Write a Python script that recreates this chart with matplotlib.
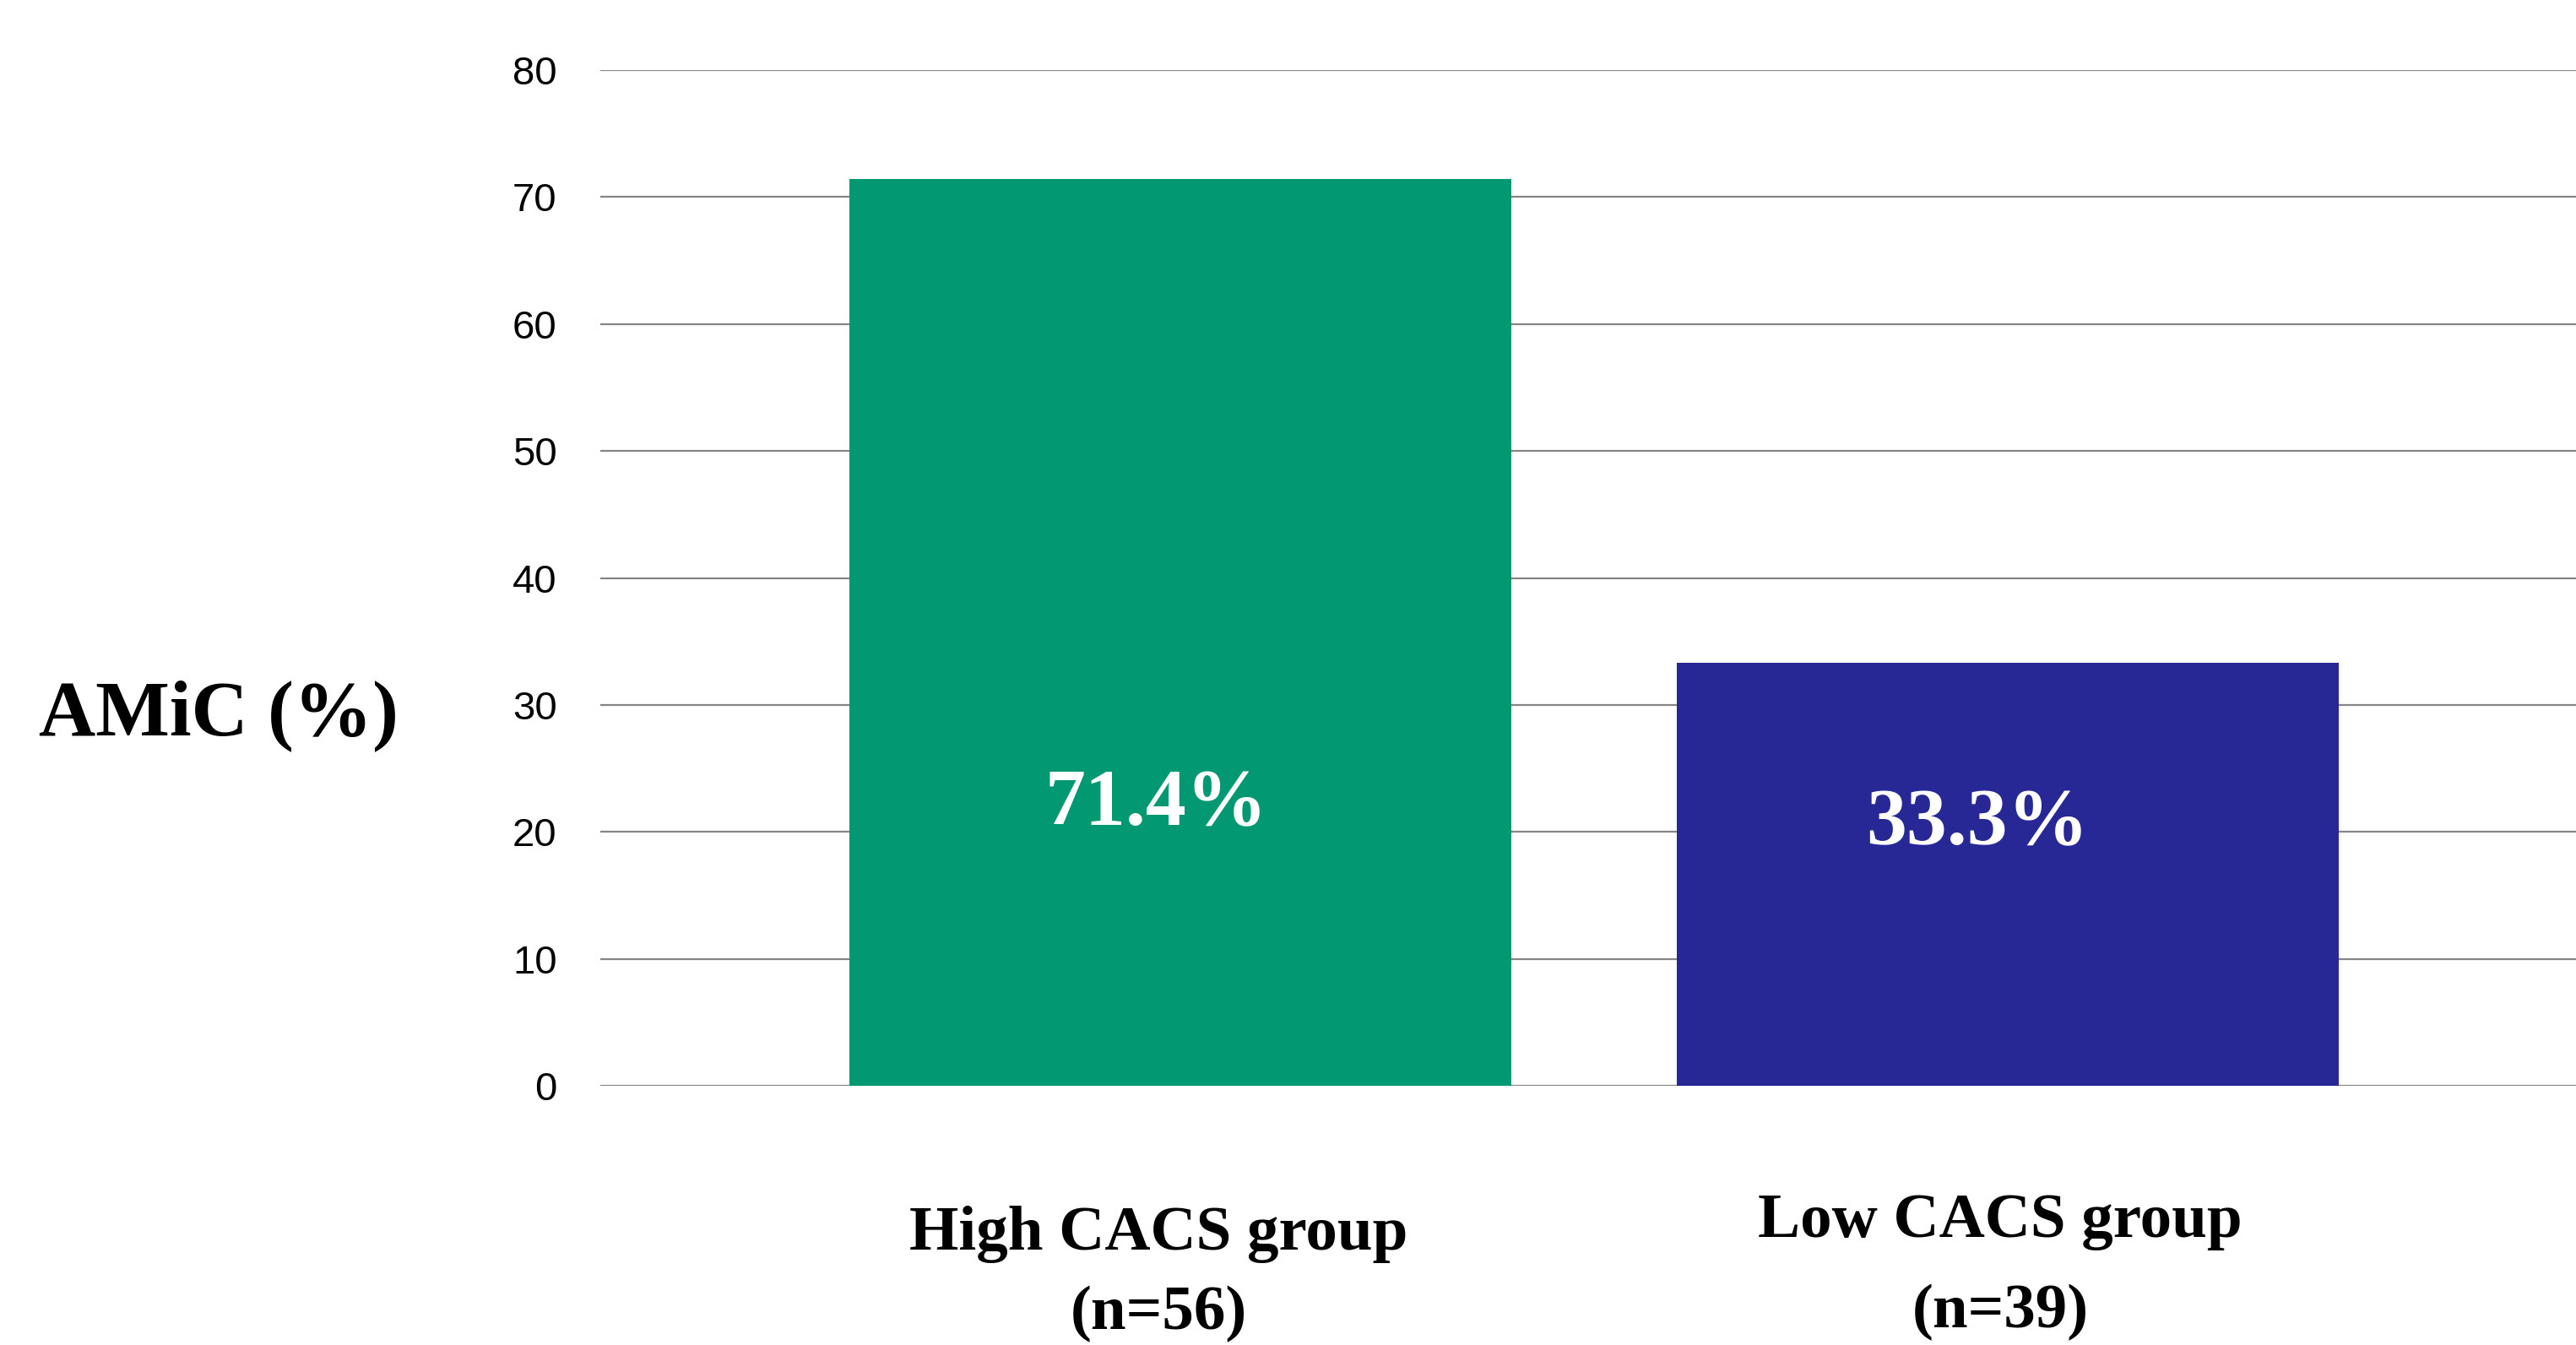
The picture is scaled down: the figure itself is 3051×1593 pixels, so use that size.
import matplotlib
matplotlib.use("Agg")
import matplotlib.pyplot as plt
import matplotlib.transforms as mtransforms

# data
groups = ["High CACS group", "Low CACS group"]
n_labels = ["(n=56)", "(n=39)"]
amic = [71.4, 33.3]
bar_colors = ["#019872", "#272795"]
yticks = [0, 10, 20, 30, 40, 50, 60, 70, 80]

W, H = 3051, 1593
fig = plt.figure(figsize=(W / 100, H / 100), dpi=100)
ax = fig.add_axes([711 / W, (H - 1286) / H, 1 - 711 / W, (1286 - 83) / H])

x = list(range(len(groups)))
ax.bar(x, amic, width=0.8, color=bar_colors, zorder=3)

ax.set_xlim(-0.701, 1.687)
ax.set_ylim(0, 80)
ax.set_yticks(yticks)
ax.set_yticklabels([str(t) for t in yticks], fontsize=34, family="Liberation Sans")
ax.tick_params(axis="y", length=0, pad=37)
ax.set_xticks([])
ax.grid(axis="y", color="#858585", linewidth=1.6)
ax.set_axisbelow(True)
for s in ax.spines.values():
    s.set_visible(False)

# value labels inside the bars
serif = "Liberation Serif"
val_y = [20.5, 19.0]
val_dx = [-0.029, -0.037]
for i, v in enumerate(amic):
    ax.text(x[i] + val_dx[i], val_y[i], f"{v}%", color="white", fontsize=69,
            fontweight="bold", family=serif, ha="center", va="baseline", zorder=4)

# group labels under the axis (pixel baselines)
trans = mtransforms.blended_transform_factory(ax.transData, fig.transFigure)
name_base = [1480, 1465]
n_base = [1574, 1572]
name_dx = [-0.026, -0.009]
for i in range(len(groups)):
    ax.text(x[i] + name_dx[i], (H - name_base[i]) / H, groups[i], transform=trans,
            fontsize=54, fontweight="bold", family=serif, ha="center", va="baseline")
    ax.text(x[i] + name_dx[i], (H - n_base[i]) / H, n_labels[i], transform=trans,
            fontsize=54, fontweight="bold", family=serif, ha="center", va="baseline")

fig.text(46 / W, (H - 870) / H, "AMiC (%)", fontsize=67, fontweight="bold",
         family=serif, ha="left", va="baseline")

fig.savefig("out.png", dpi=100, facecolor="white")
